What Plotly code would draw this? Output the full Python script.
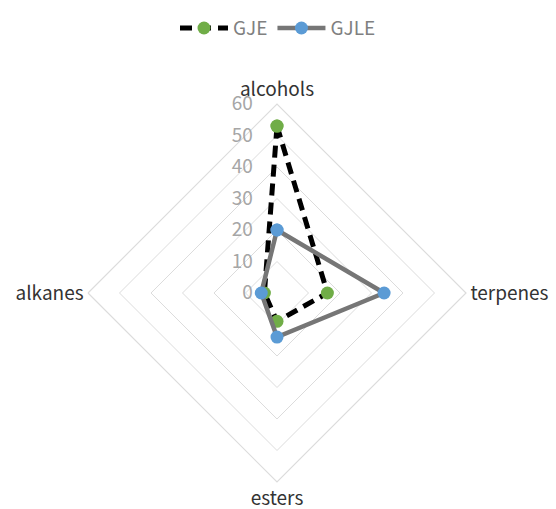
import plotly.graph_objects as go

# Volatile compound classes (relative content, %)
categories = ["alcohols", "terpenes", "esters", "alkanes"]
gje = [53, 16, 9, 4]
gjle = [20, 34, 14, 5]
radial_ticks = [0, 10, 20, 30, 40, 50, 60]

def closed(vals):
    return list(vals) + [vals[0]]

fig = go.Figure()

fig.add_trace(go.Scatterpolar(
    r=closed(gje),
    theta=closed(categories),
    name="GJE",
    mode="lines+markers",
    line=dict(color="#000000", width=5, dash="12px,7px"),
    marker=dict(color="#70AD47", size=13),
))

fig.add_trace(go.Scatterpolar(
    r=closed(gjle),
    theta=closed(categories),
    name="GJLE",
    mode="lines+markers",
    line=dict(color="#767676", width=4.5),
    marker=dict(color="#5B9BD5", size=13),
))

W, H = 556, 509
cx, cy, R = 277, 293, 189
GRID = "#DCDCDC"

fig.update_layout(
    width=W,
    height=H,
    margin=dict(l=0, r=0, t=0, b=0, autoexpand=False),
    paper_bgcolor="white",
    plot_bgcolor="white",
    font=dict(family="Noto Sans CJK SC, Noto Sans, sans-serif"),
    showlegend=True,
    legend=dict(
        orientation="h",
        x=0.5, xanchor="center",
        y=0.982, yanchor="top",
        font=dict(size=19, color="#808080"),
        itemwidth=48,
    ),
    polar=dict(
        domain=dict(
            x=[(cx - R) / W, (cx + R) / W],
            y=[(H - cy - R) / H, (H - cy + R) / H],
        ),
        bgcolor="white",
        gridshape="linear",
        angularaxis=dict(
            rotation=90,
            direction="clockwise",
            showgrid=False,
            showline=True,
            linecolor=GRID,
            linewidth=1.2,
            ticks="",
            tickfont=dict(size=19, color="#333333"),
        ),
        radialaxis=dict(
            range=[0, 60],
            tickvals=radial_ticks,
            angle=90,
            tickangle=90,
            side="counterclockwise",
            showline=False,
            ticks="outside",
            ticklen=17,
            tickcolor="rgba(0,0,0,0)",
            gridcolor=GRID,
            gridwidth=1.2,
            tickfont=dict(size=19, color="#A6A6A6"),
        ),
    ),
)

fig.write_html("out.html")
